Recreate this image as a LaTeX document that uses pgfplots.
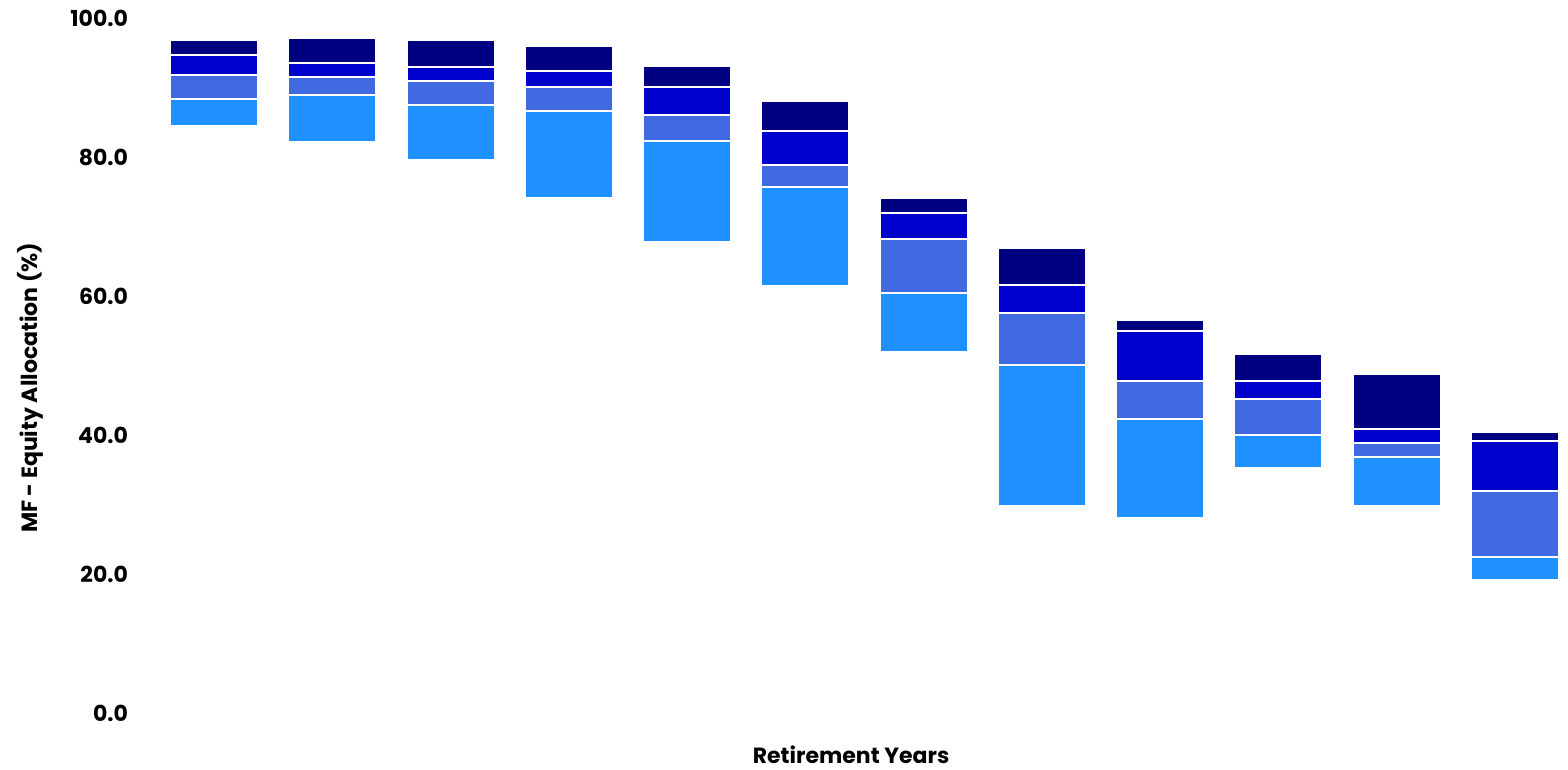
\documentclass[border=0pt]{standalone}
\usepackage{pgfplots}
\pgfplotsset{compat=1.18}
\usepackage{pgfplotstable}
\usepackage{fontspec}
\setmainfont{Poppins}

\definecolor{cNavy}{HTML}{000080}
\definecolor{cMed}{HTML}{0000CD}
\definecolor{cRoyal}{HTML}{4169E1}
\definecolor{cDodger}{HTML}{1E90FF}

% base = lower end, then the four stacked segment heights
\pgfplotstableread{
x base s1 s2 s3 s4
0 84.5 3.8 3.5 2.9 2.1
1 82.2 6.7 2.6 2.0 3.6
2 79.6 7.9 3.4 2.1 3.8
3 74.1 12.5 3.5 2.3 3.6
4 67.8 14.5 3.7 4.1 3.0
5 61.4 14.3 3.1 4.9 4.3
6 51.9 8.5 7.8 3.7 2.2
7 29.8 20.3 7.5 4.0 5.3
8 28.1 14.2 5.5 7.2 1.5
9 35.3 4.7 5.2 2.6 3.9
10 29.8 7.0 2.0 2.1 7.9
11 19.1 3.3 9.5 7.2 1.3
}\alloc

\begin{document}
\begin{tikzpicture}
\begin{axis}[
    name=ax,
    scale only axis,
    width=706.5pt, height=347.5pt,
    xmin=-0.5, xmax=11.45,
    ymin=0, ymax=100,
    axis line style={draw=none},
    ybar stacked,
    bar width=0.745,
    xtick=\empty,
    ytick={0,20,...,100},
    major tick length=0pt,
    ytick style={draw=none},
    y tick label style={font=\bfseries\fontsize{11}{13}\selectfont, xshift=-10pt},
    /pgf/number format/.cd, fixed, fixed zerofill, precision=1, assume math mode=true,
    /pgfplots/.cd,
    ylabel={MF - Equity Allocation (\%)},
    every axis y label/.style={at={(axis description cs:0,0.468)}, xshift=-62.5pt, rotate=90, anchor=center,
        font=\bfseries\fontsize{11}{13}\selectfont},
    clip=false,
]
\addplot[draw=none, fill=none] table[x=x, y=base] {\alloc};
\addplot[fill=cDodger, draw=white, line width=1pt] table[x=x, y=s1] {\alloc};
\addplot[fill=cRoyal, draw=white, line width=1pt] table[x=x, y=s2] {\alloc};
\addplot[fill=cMed, draw=white, line width=1pt] table[x=x, y=s3] {\alloc};
\addplot[fill=cNavy, draw=white, line width=1pt] table[x=x, y=s4] {\alloc};
\node[font=\bfseries\fontsize{11}{13}\selectfont, anchor=center] at (axis description cs:0.4926,0) [yshift=-21pt] {Retirement Years};
\end{axis}
\pgfresetboundingbox
\path (ax.south west) ++(-77.5pt,-28.5pt) rectangle ++(784pt,385pt);
\end{tikzpicture}
\end{document}
